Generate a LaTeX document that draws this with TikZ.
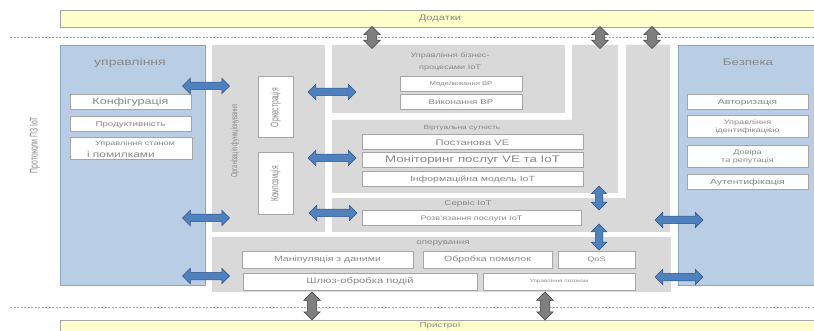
\documentclass[tikz,border=0pt]{standalone}
\usepackage{fontspec}
\setmainfont{Liberation Sans}[FakeStretch=1.4]
\newfontfamily\rotfont{Liberation Sans}[FakeStretch=0.62]
\usetikzlibrary{shapes.arrows}
\definecolor{bluefill}{HTML}{B9CDE5}
\definecolor{blueline}{HTML}{8AA6C6}
\definecolor{grayfill}{HTML}{D9D9D9}
\definecolor{yellowfill}{HTML}{FFFFCC}
\definecolor{yellowline}{HTML}{A6A6A6}
\definecolor{boxline}{HTML}{A6A6A6}
\definecolor{txt}{HTML}{888888}
\definecolor{arrowblue}{HTML}{4F81BD}
\definecolor{arrowblueline}{HTML}{2F5588}
\definecolor{arrowgray}{HTML}{7F7F7F}
\definecolor{arrowgrayline}{HTML}{3F3F3F}
\newcommand\fsz[2]{\fontsize{#1}{#2}\selectfont}
\begin{document}
\begin{tikzpicture}[x=1pt,y=-1pt,
  box/.style={draw=boxline, fill=white, line width=1pt, inner sep=0pt, text=txt, align=center},
  lab/.style={text=txt, inner sep=0pt, align=center},
  rotlab/.style={rotate=90, text=txt, inner sep=0pt},
  bluepanel/.style={fill=bluefill, draw=blueline, line width=0.8pt},
  graypanel/.style={fill=grayfill},
  yellowbar/.style={fill=yellowfill, draw=yellowline, line width=0.8pt},
  dashline/.style={draw=yellowline, line width=0.8pt, dash pattern=on 2pt off 1.5pt},
  barrow/.style={double arrow, draw=arrowblueline, fill=arrowblue, line width=0.5pt,
    inner sep=3.5pt, double arrow head extend=4pt, minimum height=#1},
  garrow/.style={double arrow, draw=arrowgrayline, fill=arrowgray, line width=0.5pt,
    inner sep=4.5pt, double arrow head extend=3.5pt, minimum height=#1, shape border rotate=90}
]
\clip (0,0) rectangle (814,331);
\fill[white] (0,0) rectangle (814,331);

% dashed separators
\draw[dashline] (10,37) -- (814,37);
\draw[dashline] (10,307) -- (814,307);

% top and bottom bars
\path[yellowbar] (60,10) rectangle (820,27);
\node[lab, font=\fsz{8}{9}] (apps) at (440,18.5) {Додатки};
\path[yellowbar] (60,320) rectangle (820,340);
\node[lab, font=\fsz{7}{8}] (devs) at (440,326) {Пристрої};

% left rotated label
\node[rotlab, font=\rotfont\fsz{11}{13}] (proto) at (35,145) {Протоколи ПЗ IoT};

% left blue panel: management
\path[bluepanel] (60,45) rectangle (205,285);
\node[lab, font=\fsz{10}{12}] (mgmt) at (130,63) {управління};
\node[box, minimum width=121, minimum height=15, font=\fsz{9}{10}] (conf) at (130.5,102.5) {Конфігурація};
\node[box, minimum width=121, minimum height=15, font=\fsz{7}{8}] (perf) at (130.5,124.5) {Продуктивність};
\node[box, minimum width=122, minimum height=22, align=left] (state) at (131,149)
  {\fsz{6.5}{8.5}\hspace*{8pt}Управління станом\\\fsz{8.5}{9.5}і помилками};

% right blue panel: security
\path[bluepanel] (678,45) rectangle (820,285);
\node[lab, font=\fsz{9.5}{11}] (sec) at (748,62) {Безпека};
\node[box, minimum width=121, minimum height=15, font=\fsz{7.5}{9}] (auth) at (747.5,102.5) {Авторизація};
\node[box, minimum width=121, minimum height=22, font=\fsz{6.5}{8}] (ident) at (747.5,127) {Управління\\ідентифікацією};
\node[box, minimum width=121, minimum height=22, font=\fsz{6.5}{8}] (trust) at (747.5,157) {Довіра\\та репутація};
\node[box, minimum width=121, minimum height=15, font=\fsz{7.5}{9}] (authn) at (747.5,182.5) {Аутентифікація};

% organisation column
\path[graypanel] (212,45) rectangle (325,232);
\node[rotlab, font=\rotfont\fsz{9}{10}] (org) at (235,141) {Організація функціонування};
\node[box, minimum width=35, minimum height=61] (orch) at (275.5,107.5) {};
\node[rotlab, font=\rotfont\fsz{11}{13}] (orcht) at (orch.center) {Оркестрація};
\node[box, minimum width=35, minimum height=62] (comp) at (275.5,184) {};
\node[rotlab, font=\rotfont\fsz{11}{13}] (compt) at (comp.center) {Композиція};

% business processes panel
\path[graypanel] (332,45) rectangle (565,113);
\node[lab, font=\fsz{6.5}{12}] (bp) at (450,62) {Управління бізнес-\\процесами IoT};
\node[box, minimum width=122, minimum height=15, font=\fsz{5.5}{7}] (bpm) at (461,84.5) {Моделювання BP};
\node[box, minimum width=122, minimum height=15, font=\fsz{7}{8}] (bpe) at (461,102.5) {Виконання BP};

% virtual entity panel (L-shape)
\path[graypanel] (332,120) -- (572,120) -- (572,45) -- (618,45) -- (618,193) -- (332,193) -- cycle;
\node[lab, font=\fsz{6}{7}] (ve) at (462,128) {Віртуальна сутність};
\node[box, minimum width=221, minimum height=15, font=\fsz{8}{9}] (vea) at (472.5,142.5) {Постанова VE};
\node[box, minimum width=221, minimum height=15, font=\fsz{9.5}{10}] (veb) at (472.5,160.5) {Моніторинг послуг VE та IoT};
\node[box, minimum width=221, minimum height=15, font=\fsz{7.5}{9}] (vec) at (472.5,179.5) {Інформаційна модель IoT};

% service panel (L-shape)
\path[graypanel] (332,198) -- (626,198) -- (626,45) -- (670,45) -- (670,232) -- (332,232) -- cycle;
\node[lab, font=\fsz{7}{8}] (srv) at (468,204) {Сервіс IoT};
\node[box, minimum width=219, minimum height=15, font=\fsz{6.5}{8}] (srva) at (471.5,218.5) {Розв'язання послуги IoT};

% operations panel
\path[graypanel] (212,237) rectangle (671,292);
\node[lab, font=\fsz{7}{8}] (ops) at (443,243.5) {оперування};
\node[box, minimum width=171, minimum height=16, font=\fsz{7.5}{9}] (opa) at (327.5,260) {Маніпуляція з даними};
\node[box, minimum width=129, minimum height=16, font=\fsz{7.5}{9}] (opb) at (487.5,260) {Обробка помилок};
\node[box, minimum width=77, minimum height=16, font=\fsz{6.5}{8}] (opc) at (596.5,260) {QoS};
\node[box, minimum width=234, minimum height=17, font=\fsz{8}{9}] (opd) at (360,281.5) {Шлюз-обробка подій};
\node[box, minimum width=152, minimum height=17, font=\fsz{4.5}{5}] (ope) at (559,281.5) {Управління потоком};

% blue horizontal double arrows
\node[barrow=47] (l1) at (206,86) {};
\node[barrow=47] (l2) at (206,218) {};
\node[barrow=47] (l3) at (206,276) {};
\node[barrow=48] (m1) at (332,92) {};
\node[barrow=48] (m2) at (332,158) {};
\node[barrow=48] (m3) at (333,213) {};
\node[barrow=48] (r1) at (679,220) {};
\node[barrow=48] (r2) at (679,277) {};
% blue vertical double arrows
\node[barrow=24, shape border rotate=90] (v1) at (599,198) {};
\node[barrow=26, shape border rotate=90] (v2) at (599,237) {};

% gray vertical double arrows
\node[garrow=22] (g1) at (372,37.5) {};
\node[garrow=22] (g2) at (600,37.5) {};
\node[garrow=22] (g3) at (652,37.5) {};
\node[garrow=28] (g4) at (312,306) {};
\node[garrow=28] (g5) at (545,306) {};
\end{tikzpicture}
\end{document}
